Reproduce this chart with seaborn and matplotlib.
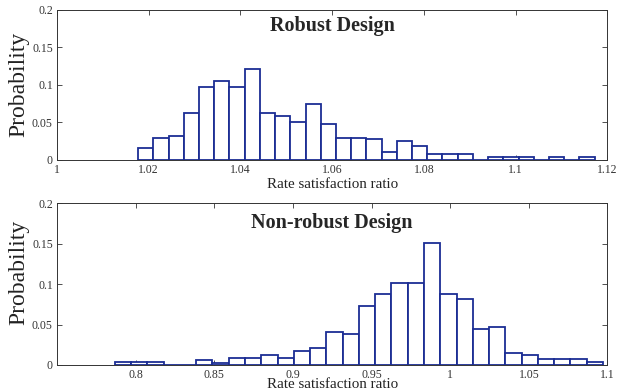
import numpy as np
import pandas as pd
import matplotlib
matplotlib.use("Agg")
import matplotlib.pyplot as plt
import seaborn as sns

# probabilities (30 bins each)
robust_prob = [0.015, 0.029, 0.032, 0.062, 0.0975, 0.1055, 0.097, 0.121, 0.062, 0.0585,
               0.050, 0.074, 0.047, 0.029, 0.029, 0.027, 0.010, 0.0245, 0.018, 0.007,
               0.007, 0.007, 0.0, 0.0035, 0.0035, 0.0035, 0.0, 0.0035, 0.0, 0.0035]
robust_first_edge = 1.0177
robust_last_edge = 1.1172

nonrobust_prob = [0.0033, 0.0033, 0.0033, 0.0, 0.0, 0.0067, 0.003, 0.009, 0.009, 0.012,
                  0.009, 0.0177, 0.0214, 0.041, 0.038, 0.0734, 0.0879, 0.102, 0.102, 0.151,
                  0.0879, 0.0817, 0.044, 0.047, 0.015, 0.012, 0.007, 0.007, 0.007, 0.0033]
nonrobust_first_edge = 0.7868
nonrobust_last_edge = 1.0971

y_ticks = [0, 0.05, 0.1, 0.15, 0.2]
y_labels = ["0", "0.05", "0.1", "0.15", "0.2"]
top_xticks = [1, 1.02, 1.04, 1.06, 1.08, 1.1, 1.12]
top_xlabels = ["1", "1.02", "1.04", "1.06", "1.08", "1.1", "1.12"]
bot_xticks = [0.8, 0.85, 0.9, 0.95, 1.0, 1.05, 1.1]
bot_xlabels = ["0.8", "0.85", "0.9", "0.95", "1", "1.05", "1.1"]

sns.set_style("ticks")
plt.rcParams["font.family"] = ["Liberation Serif", "DejaVu Serif"]
plt.rcParams["axes.edgecolor"] = "#333333"
plt.rcParams["axes.linewidth"] = 0.7

edge_col = "#1b2d94"


def hist_panel(ax, prob, first, last, xlim, xticks, xlabels, title, title_y):
    n = len(prob)
    width = (last - first) / n
    df = pd.DataFrame({"ratio": first + width * (np.arange(n) + 0.5), "prob": prob})
    sns.histplot(data=df, x="ratio", weights="prob", bins=n, binrange=(first, last), ax=ax,
                 color="white", edgecolor=edge_col, linewidth=1.3, alpha=1)
    ax.set_xlim(*xlim)
    ax.set_ylim(0, 0.2)
    ax.set_xticks(xticks)
    ax.set_xticklabels(xlabels)
    ax.set_yticks(y_ticks)
    ax.set_yticklabels(y_labels)
    ax.tick_params(direction="in", top=True, right=True, length=3.5, width=0.6,
                   labelsize=8.5, colors="#333333", pad=3)
    ax.set_ylabel("Probability", fontsize=17, color="#222222", va="center")
    ax.set_xlabel("Rate satisfaction ratio", fontsize=10.8, color="#222222", va="center")
    ax.text(0.5, title_y, title, transform=ax.transAxes, ha="center", va="center",
            fontsize=14.5, fontweight="bold")


fig = plt.figure(figsize=(6.18, 3.92), dpi=100)
ax1 = fig.add_axes([0.0922, 0.5931, 0.8908, 0.3814])
ax2 = fig.add_axes([0.0922, 0.0689, 0.8908, 0.4125])

hist_panel(ax1, robust_prob, robust_first_edge, robust_last_edge, (1, 1.12),
           top_xticks, top_xlabels, "Robust Design", 0.895)
ax1.xaxis.set_label_coords(0.5, -0.164)
ax1.yaxis.set_label_coords(-0.07, 0.5)

hist_panel(ax2, nonrobust_prob, nonrobust_first_edge, nonrobust_last_edge, (0.75, 1.1),
           bot_xticks, bot_xlabels, "Non-robust Design", 0.876)
ax2.xaxis.set_label_coords(0.5, -0.12)
ax2.yaxis.set_label_coords(-0.07, 0.57)

plt.savefig("out.png", dpi=100)
